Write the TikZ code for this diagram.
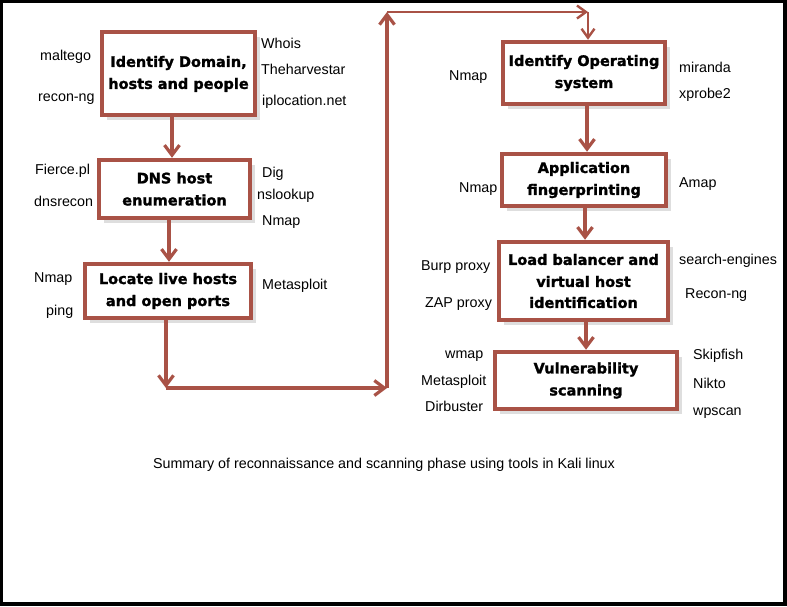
\documentclass[tikz,border=0pt]{standalone}
\usepackage{fontspec}
\setmainfont{Liberation Sans}
\newfontfamily\boxfont[FakeBold=1.5]{DejaVu Sans}
\usetikzlibrary{arrows.meta,shadows}
\definecolor{brn}{RGB}{169,82,70}
\tikzset{
  stepbox/.style={draw=brn, line width=4.5pt, fill=white, inner sep=0pt,
    align=center, font=\boxfont\bfseries\fontsize{14.5}{22}\selectfont,
    drop shadow={fill=black!25, shadow xshift=5pt, shadow yshift=-5pt}},
  tool/.style={anchor=base west, inner sep=0pt, font=\fontsize{14.3}{17}\selectfont},
  arr/.style={draw=brn, line width=3.2pt, -{Straight Barb[length=10pt,width=15pt]}},
  thinarr/.style={draw=brn, line width=2.4pt, -{Straight Barb[length=9pt,width=13pt]}}
}
\begin{document}
\begin{tikzpicture}[x=1pt,y=-1pt]
\useasboundingbox (0,0) rectangle (787,606);
\fill[black] (0,0) rectangle (787,606);
\fill[white] (3,3) rectangle (783,602);

% tool labels
\node[tool] (t1) at (40,60) {maltego};
\node[tool] (t2) at (38,101) {recon-ng};
\node[tool] (t3) at (261,48) {Whois};
\node[tool] (t4) at (261,74) {Theharvestar};
\node[tool] (t5) at (262,105) {iplocation.net};
\node[tool] (t6) at (35,174) {Fierce.pl};
\node[tool] (t7) at (34,206) {dnsrecon};
\node[tool] (t8) at (262,177) {Dig};
\node[tool] (t9) at (257,199) {nslookup};
\node[tool] (t10) at (262,225) {Nmap};
\node[tool] (t11) at (34,282) {Nmap};
\node[tool] (t12) at (46,315) {ping};
\node[tool] (t13) at (262,289) {Metasploit};
\node[tool] (t14) at (449,80) {Nmap};
\node[tool] (t15) at (679,72) {miranda};
\node[tool] (t16) at (679,98) {xprobe2};
\node[tool] (t17) at (459,192) {Nmap};
\node[tool] (t18) at (679,187) {Amap};
\node[tool] (t19) at (421,270) {Burp proxy};
\node[tool] (t20) at (679,264) {search-engines};
\node[tool] (t21) at (425,307) {ZAP proxy};
\node[tool] (t22) at (685,298) {Recon-ng};
\node[tool] (t23) at (445,358) {wmap};
\node[tool] (t24) at (421,385) {Metasploit};
\node[tool] (t25) at (425,411) {Dirbuster};
\node[tool] (t26) at (693,359) {Skipfish};
\node[tool] (t27) at (693,388) {Nikto};
\node[tool] (t28) at (693,415) {wpscan};

% boxes
\node[stepbox, minimum width=153pt, minimum height=83pt] (b1) at (178.5,73.5) {\raisebox{-2pt}{\begin{tabular}{@{}c@{}}Identify Domain,\\hosts and people\end{tabular}}};
\node[stepbox, minimum width=151pt, minimum height=58pt] (b2) at (174.5,189) {DNS host\\enumeration};
\node[stepbox, minimum width=166pt, minimum height=54pt] (b3) at (168,291) {Locate live hosts\\and open ports};
\node[stepbox, minimum width=162pt, minimum height=62pt] (b4) at (584,73) {Identify Operating\\system};
\node[stepbox, minimum width=164pt, minimum height=52pt] (b5) at (584,180) {Application\\fingerprinting};
\node[stepbox, minimum width=169pt, minimum height=78pt] (b6) at (583.5,281) {Load balancer and\\virtual host\\[-1pt]identification};
\node[stepbox, minimum width=182pt, minimum height=57pt] (b7) at (586,380.5) {Vulnerability\\scanning};

% loop corners
\coordinate (c1) at (166,388);
\coordinate (c2) at (387,388);
\coordinate (c3) at (387,12);
\coordinate (c4) at (588,12);

% connectors
\draw[arr] ([xshift=-6.5pt]b1.south) -- ([xshift=-2.5pt]b2.north);
\draw[arr] ([xshift=-5.5pt]b2.south) -- ([xshift=1pt]b3.north);
\draw[arr] ([xshift=-2pt]b3.south) -- (c1);
\draw[arr] (c1) -- (c2);
\draw[arr] (c2) -- (c3);
\draw[thinarr] (c3) -- (c4);
\draw[thinarr] (c4) -- ([xshift=4pt]b4.north);
\draw[arr] ([xshift=3pt]b4.south) -- ([xshift=3pt]b5.north);
\draw[arr] ([xshift=1pt]b5.south) -- ([xshift=1.5pt]b6.north);
\draw[arr] ([xshift=2.5pt]b6.south) -- (b7.north);

% caption
\node[anchor=base, inner sep=0pt, font=\fontsize{14.3}{17}\selectfont] (cap) at (384,468) {Summary of reconnaissance and scanning phase using tools in Kali linux};
\end{tikzpicture}
\end{document}
